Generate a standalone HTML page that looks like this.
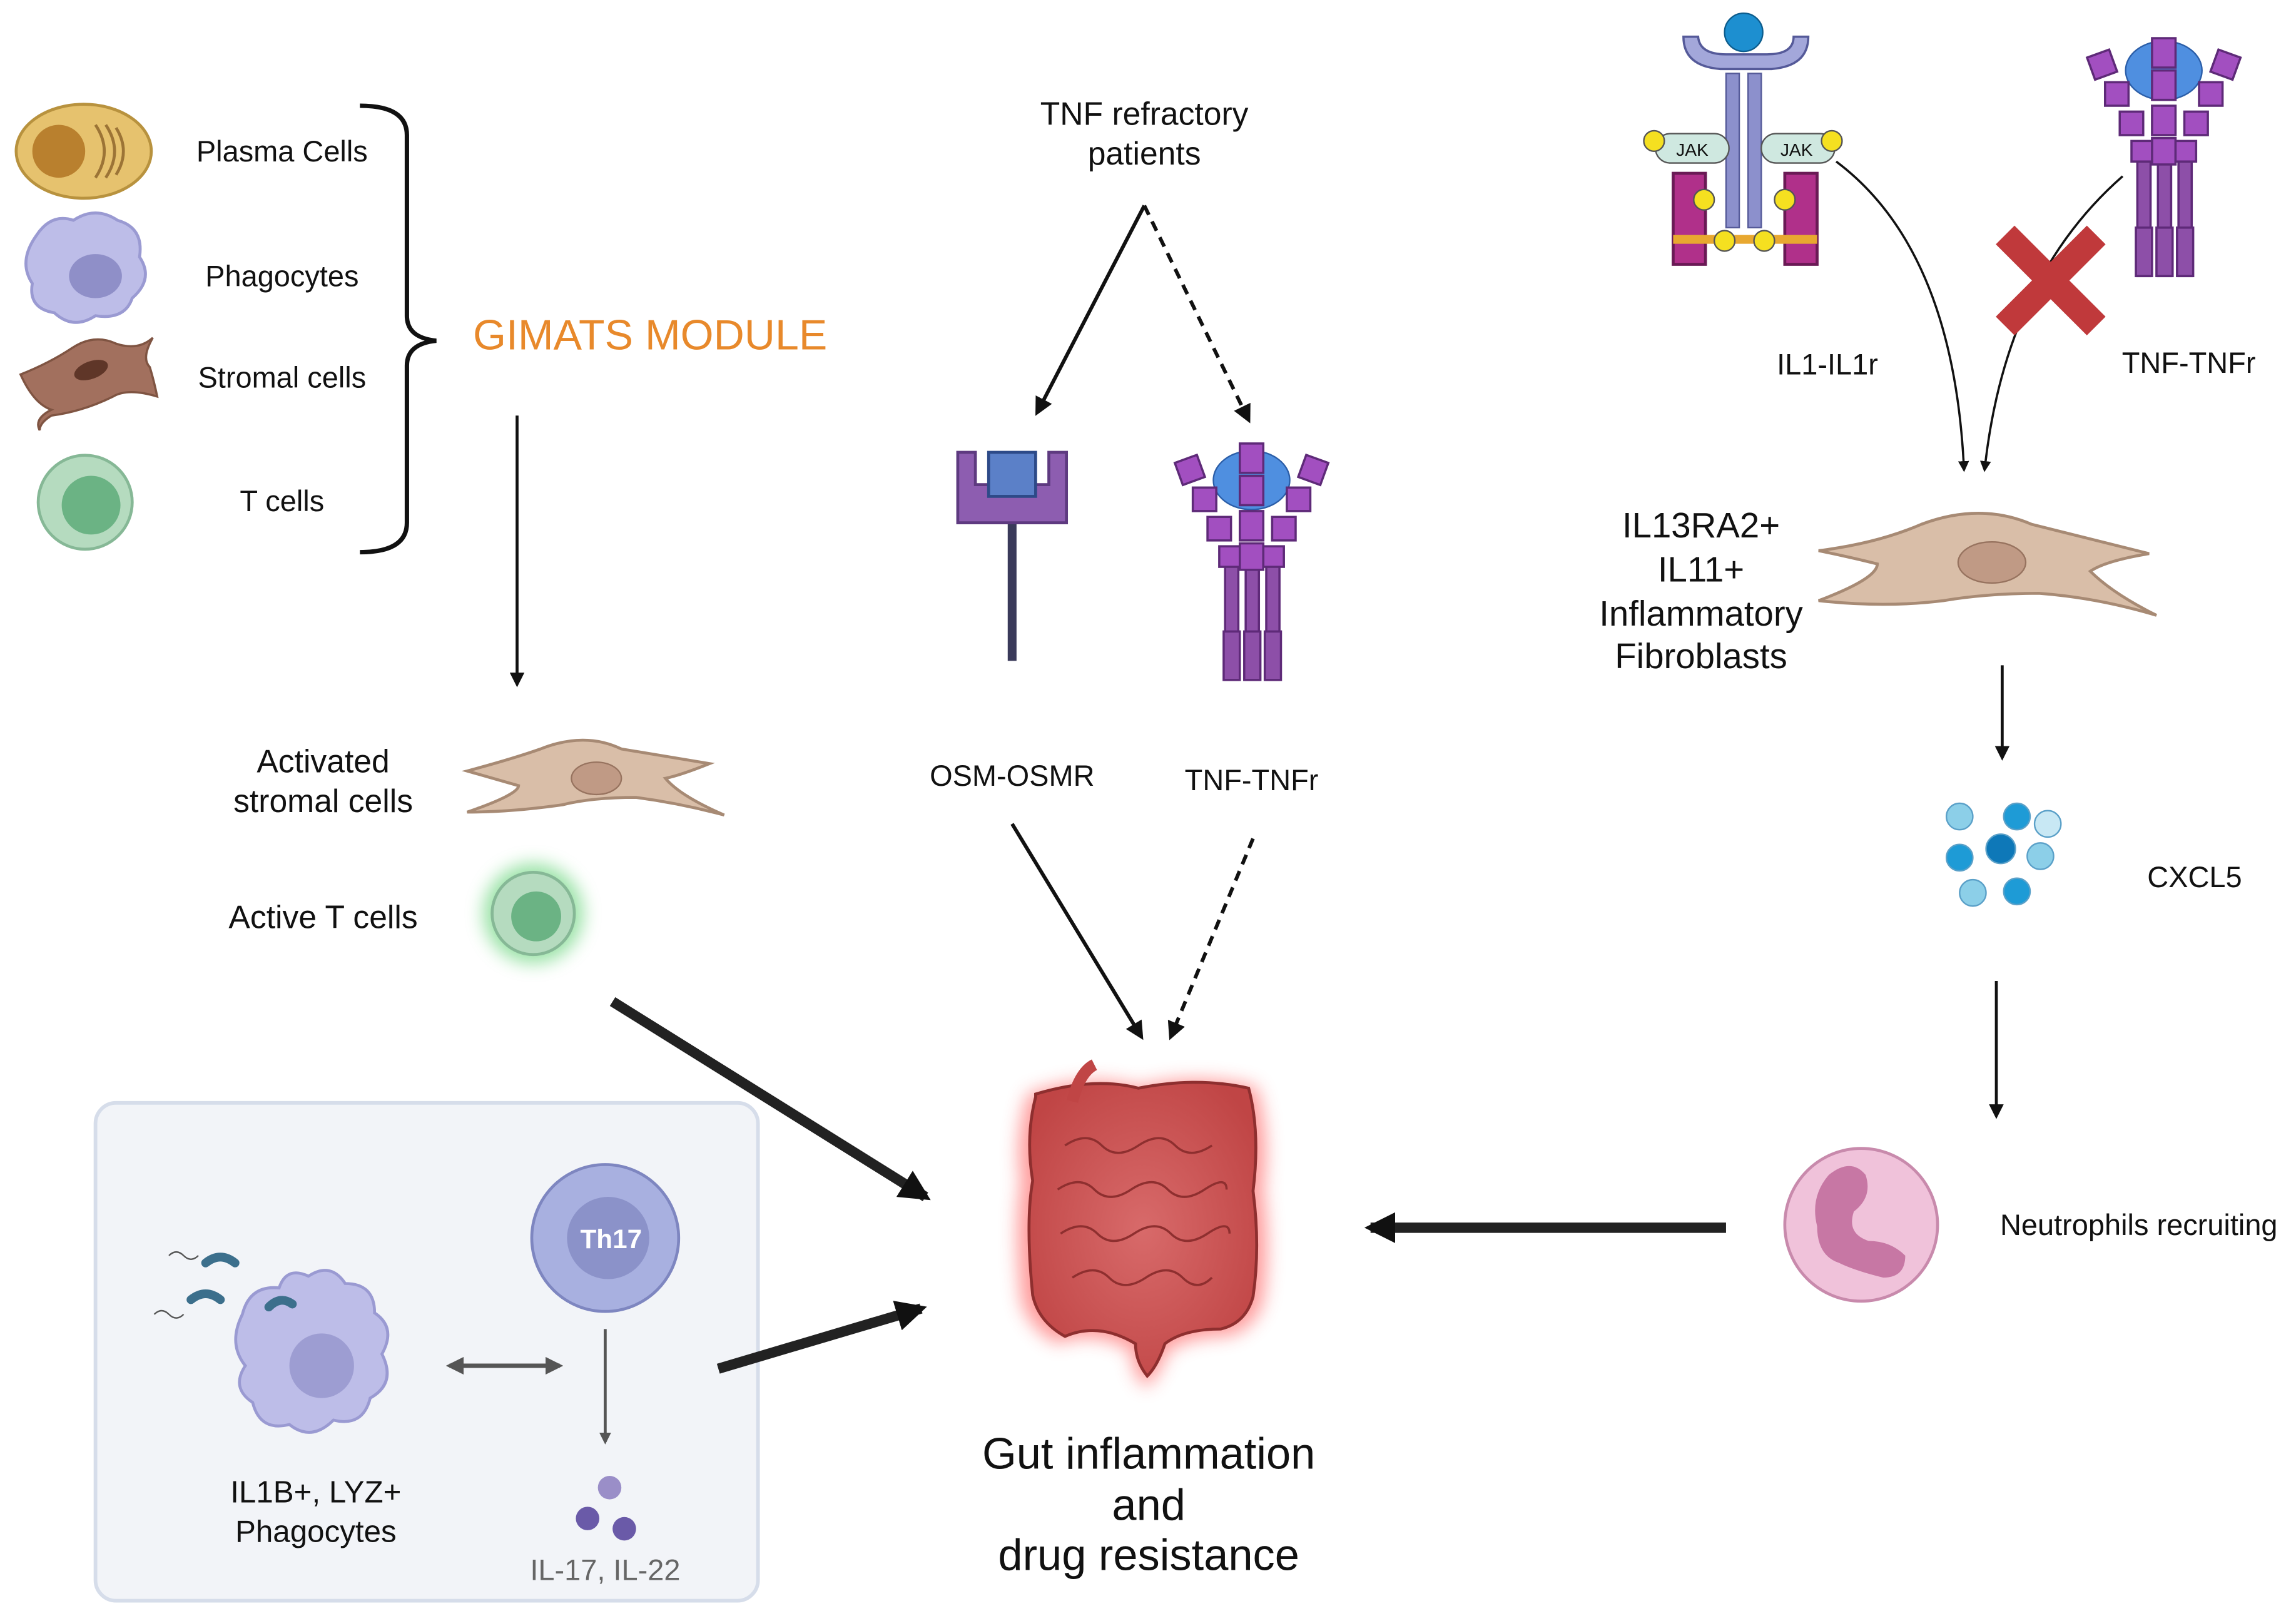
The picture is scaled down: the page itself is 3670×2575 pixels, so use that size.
<!DOCTYPE html>
<html><head><meta charset="utf-8"><style>
html,body{margin:0;padding:0;background:#fff;}
svg{display:block;}
text{font-family:"Liberation Sans",sans-serif;fill:#111;}
</style></head><body>
<svg width="3670" height="2575" viewBox="0 0 1563 1097" preserveAspectRatio="none" xmlns="http://www.w3.org/2000/svg">
<defs>
<marker id="ah" viewBox="0 0 10 10" refX="8" refY="5" markerWidth="5" markerHeight="5" orient="auto-start-reverse"><path d="M0,0L10,5L0,10z" fill="#111"/></marker>
<marker id="ah2" viewBox="0 0 10 10" refX="8" refY="5" markerWidth="3" markerHeight="3" orient="auto-start-reverse"><path d="M0,0L10,5L0,10z" fill="#111"/></marker>
<marker id="ahg" viewBox="0 0 10 10" refX="8" refY="5" markerWidth="4" markerHeight="4" orient="auto-start-reverse"><path d="M0,0L10,5L0,10z" fill="#555"/></marker>
<filter id="glow" x="-1" y="-1" width="3" height="3"><feGaussianBlur stdDeviation="6"/></filter>
<radialGradient id="gut" cx="0.5" cy="0.5" r="0.6"><stop offset="0" stop-color="#d86a6a"/><stop offset="1" stop-color="#c04545"/></radialGradient>
</defs>

<!-- left cells -->
<ellipse cx="57" cy="103" rx="46" ry="32" fill="#e6c26e" stroke="#b8923e" stroke-width="2"/>
<ellipse cx="40" cy="103" rx="18" ry="18" fill="#b9802e"/>
<path d="M65,85 q12,18 0,36 M72,85 q12,18 0,36 M79,87 q10,16 0,32" stroke="#9c7436" fill="none" stroke-width="2"/>
<path d="M25,160 q10,-15 25,-10 q15,-10 30,0 q18,5 15,25 q10,15 -5,28 q-5,15 -25,12 q-15,10 -28,-2 q-18,-3 -15,-20 q-10,-15 3,-33z" fill="#bdbde8" stroke="#9a9ad2" stroke-width="2"/>
<ellipse cx="65" cy="188" rx="18" ry="15" fill="#8f8fc8"/>
<path d="M14,255 q20,-8 35,-18 q15,-10 30,-3 q15,5 25,-4 q-8,14 -2,20 q3,10 5,20 q-20,-6 -30,0 q-20,10 -42,13 q-8,5 -8,10 q-4,-8 8,-14 q-12,-4 -21,-24z" fill="#a2705e" stroke="#7f5442" stroke-width="1.5"/>
<ellipse cx="62" cy="252" rx="12" ry="6" fill="#5f3628" transform="rotate(-20 62 252)"/>
<circle cx="58" cy="342" r="32" fill="#b5dbbf" stroke="#86b896" stroke-width="2"/>
<circle cx="62" cy="344" r="20" fill="#6bb384"/>
<text x="192" y="110" font-size="20" text-anchor="middle">Plasma Cells</text>
<text x="192" y="195" font-size="20" text-anchor="middle">Phagocytes</text>
<text x="192" y="264" font-size="20" text-anchor="middle">Stromal cells</text>
<text x="192" y="348" font-size="20" text-anchor="middle">T cells</text>
<path d="M245,72 q32,0 32,20 L277,215 q0,15 20,17 q-20,2 -20,17 L277,356 q0,20 -32,20" fill="none" stroke="#111" stroke-width="3"/>
<text x="322" y="238" font-size="29" fill="#e8892b" style="fill:#e8892b">GIMATS MODULE</text>
<line x1="352" y1="283" x2="352" y2="466" stroke="#111" stroke-width="2" marker-end="url(#ah)"/>

<text x="220" y="526" font-size="22" text-anchor="middle">Activated</text>
<text x="220" y="553" font-size="22" text-anchor="middle">stromal cells</text>
<path d="M318,525 q30,-8 50,-15 q30,-12 55,0 q30,5 60,10 q-20,8 -30,10 q10,12 40,25 q-30,-8 -60,-12 q-30,0 -50,5 q-35,5 -65,5 q35,-12 35,-18z" fill="#d9bea8" stroke="#a78a74" stroke-width="2"/>
<ellipse cx="406" cy="530" rx="17" ry="11" fill="#c09a85" stroke="#97735f"/>
<text x="220" y="632" font-size="22" text-anchor="middle">Active T cells</text>
<circle cx="363" cy="622" r="34" fill="#6dd67f" filter="url(#glow)" opacity="0.7"/>
<circle cx="363" cy="622" r="28" fill="#b5dbbf" stroke="#86b896" stroke-width="2"/>
<circle cx="365" cy="624" r="17" fill="#6bb384"/>
<line x1="417" y1="682" x2="630" y2="815" stroke="#222" stroke-width="7" marker-end="url(#ah2)"/>

<!-- box -->
<rect x="65" y="751" width="451" height="339" rx="14" fill="#f2f4f8" stroke="#d6ddea" stroke-width="2.5"/>
<path d="M165,895 q5,-20 25,-18 q5,-15 20,-8 q15,-10 25,5 q20,0 20,20 q15,10 5,28 q10,20 -8,30 q-5,20 -25,15 q-15,15 -30,3 q-20,5 -25,-15 q-15,-10 -5,-25 q-12,-15 -2,-35z" fill="#bdbde8" stroke="#9a9ad2" stroke-width="2"/>
<circle cx="219" cy="930" r="22" fill="#9d9dd2"/>
<path d="M140,860 q10,-8 20,0" stroke="#3c6f8c" stroke-width="6" fill="none" stroke-linecap="round"/>
<path d="M130,885 q10,-8 20,0" stroke="#3c6f8c" stroke-width="6" fill="none" stroke-linecap="round"/>
<path d="M183,890 q8,-8 16,-2" stroke="#3c6f8c" stroke-width="6" fill="none" stroke-linecap="round"/>
<path d="M115,855 q5,-5 10,0 t10,0 M105,895 q5,-5 10,0 t10,0" stroke="#555" fill="none"/>
<text x="215" y="1023" font-size="21" text-anchor="middle">IL1B+, LYZ+</text>
<text x="215" y="1050" font-size="21" text-anchor="middle">Phagocytes</text>
<line x1="306" y1="930" x2="381" y2="930" stroke="#555" stroke-width="3" marker-start="url(#ahg)" marker-end="url(#ahg)"/>
<circle cx="412" cy="843" r="50" fill="#a8b0e0" stroke="#7e86c0" stroke-width="2"/>
<circle cx="414" cy="843" r="28" fill="#8b92c9"/>
<text x="416" y="850" font-size="18" font-weight="bold" text-anchor="middle" style="fill:#fff">Th17</text>
<line x1="412" y1="905" x2="412" y2="982" stroke="#555" stroke-width="2" marker-end="url(#ahg)"/>
<circle cx="415" cy="1013" r="8" fill="#9a8ec8"/>
<circle cx="400" cy="1034" r="8" fill="#6a5aa8"/>
<circle cx="425" cy="1041" r="8" fill="#6a5aa8"/>
<text x="412" y="1076" font-size="20" text-anchor="middle" style="fill:#666">IL-17, IL-22</text>
<line x1="489" y1="932" x2="627" y2="891" stroke="#222" stroke-width="7" marker-end="url(#ah2)"/>

<!-- center -->
<text x="779" y="85" font-size="22" text-anchor="middle">TNF refractory</text>
<text x="779" y="112" font-size="22" text-anchor="middle">patients</text>
<line x1="779" y1="140" x2="706" y2="281" stroke="#111" stroke-width="2.5" marker-end="url(#ah)"/>
<line x1="779" y1="140" x2="850" y2="286" stroke="#111" stroke-width="2.5" stroke-dasharray="7,5" marker-end="url(#ah)"/>
<rect x="686" y="350" width="6" height="100" fill="#3a3a5a"/>
<path d="M652,308 h12 v22 h50 v-22 h12 v48 h-74z" fill="#8d5db0" stroke="#5e3a80" stroke-width="2"/>
<rect x="673" y="308" width="32" height="30" fill="#5b80c8" stroke="#2d4a88" stroke-width="2"/>
<g fill="#8d4fa8" stroke="#5e2a78" stroke-width="1.5">
<rect x="834" y="385" width="9" height="78"/><rect x="848" y="385" width="9" height="78"/><rect x="862" y="385" width="9" height="78"/>
<rect x="833" y="430" width="11" height="33"/><rect x="847" y="430" width="11" height="33"/><rect x="861" y="430" width="11" height="33"/>
</g>
<ellipse cx="852" cy="327" rx="26" ry="20" fill="#4f8fe0" stroke="#2b5ea8"/>
<g fill="#a24fc0" stroke="#5e2a78" stroke-width="1.5">
<rect x="844" y="302" width="16" height="20"/><rect x="844" y="324" width="16" height="20"/><rect x="844" y="348" width="16" height="20"/><rect x="844" y="370" width="16" height="18"/>
<rect x="802" y="312" width="16" height="16" transform="rotate(-20 810 320)"/><rect x="886" y="312" width="16" height="16" transform="rotate(20 894 320)"/>
<rect x="812" y="332" width="16" height="16"/><rect x="876" y="332" width="16" height="16"/>
<rect x="822" y="352" width="16" height="16"/><rect x="866" y="352" width="16" height="16"/>
<rect x="830" y="372" width="14" height="14"/><rect x="860" y="372" width="14" height="14"/>
</g>
<text x="689" y="535" font-size="20" text-anchor="middle">OSM-OSMR</text>
<text x="852" y="538" font-size="20" text-anchor="middle">TNF-TNFr</text>
<line x1="689" y1="561" x2="777" y2="706" stroke="#111" stroke-width="2.5" marker-end="url(#ah)"/>
<line x1="853" y1="571" x2="797" y2="706" stroke="#111" stroke-width="2.5" stroke-dasharray="7,5" marker-end="url(#ah)"/>

<!-- gut -->
<g>
<path d="M700,745 q40,-15 75,-5 q40,-10 80,0 q10,30 5,70 q5,40 0,75 q-5,20 -25,25 q-25,0 -40,10 q-5,15 -15,25 q-10,-10 -10,-25 q-25,-15 -50,-5 q-20,-10 -25,-30 q-5,-50 0,-80 q-5,-30 5,-60z" fill="#ff5c5c" filter="url(#glow)" opacity="0.6"/>
<path d="M705,745 q40,-12 70,-4 q40,-8 75,0 q8,30 3,70 q5,38 0,72 q-5,18 -22,22 q-25,0 -38,10 q-5,15 -12,22 q-8,-10 -8,-22 q-25,-15 -48,-5 q-18,-10 -22,-28 q-5,-50 0,-78 q-5,-30 2,-57z" fill="url(#gut)" stroke="#8e2f2f" stroke-width="2"/>
<path d="M730,750 q5,-20 15,-25" stroke="#c04545" stroke-width="8" fill="none"/>
<path d="M725,780 q15,-10 25,0 t25,0 t25,0 t25,0 M720,810 q15,-10 25,0 t25,0 t25,0 t25,0 t15,0 M722,840 q15,-10 25,0 t25,0 t25,0 t25,0 t15,0 M730,870 q15,-10 25,0 t25,0 t25,0 t20,0" stroke="#8e2f2f" fill="none" stroke-width="1.5"/>
</g>
<text x="782" y="1000" font-size="30" text-anchor="middle">Gut inflammation</text>
<text x="782" y="1035" font-size="30" text-anchor="middle">and</text>
<text x="782" y="1069" font-size="30" text-anchor="middle">drug resistance</text>

<!-- right top receptors -->
<g>
<rect x="1139" y="118" width="22" height="62" fill="#b0308a" stroke="#6a1a55" stroke-width="2"/>
<rect x="1215" y="118" width="22" height="62" fill="#b0308a" stroke="#6a1a55" stroke-width="2"/>
<rect x="1161" y="128" width="54" height="8" fill="#fff" opacity="0"/>
<rect x="1139" y="160" width="98" height="6" fill="#e8a830"/>
<rect x="1175" y="50" width="9" height="105" fill="#8c90cc" stroke="#555a99"/>
<rect x="1190" y="50" width="9" height="105" fill="#8c90cc" stroke="#555a99"/>
<path d="M1146,25 q0,20 25,22 l35,0 q25,-2 25,-22 l-10,0 q0,12 -18,12 l-28,0 q-18,0 -19,-12z" fill="#a3a7da" stroke="#555a99" stroke-width="1.5"/>
<circle cx="1187" cy="22" r="13" fill="#1d8fd0" stroke="#0d5c8c"/>
<rect x="1127" y="91" width="50" height="20" rx="10" fill="#cfe8e0" stroke="#555"/>
<rect x="1199" y="91" width="50" height="20" rx="10" fill="#cfe8e0" stroke="#555"/>
<text x="1152" y="106" font-size="12" text-anchor="middle">JAK</text>
<text x="1223" y="106" font-size="12" text-anchor="middle">JAK</text>
<g fill="#f5e020" stroke="#555"><circle cx="1126" cy="96" r="7"/><circle cx="1247" cy="96" r="7"/><circle cx="1160" cy="136" r="7"/><circle cx="1215" cy="136" r="7"/><circle cx="1174" cy="164" r="7"/><circle cx="1201" cy="164" r="7"/></g>
</g>
<g fill="#8d4fa8" stroke="#5e2a78" stroke-width="1.5">
<rect x="1455" y="110" width="9" height="78"/><rect x="1469" y="110" width="9" height="78"/><rect x="1483" y="110" width="9" height="78"/>
<rect x="1454" y="155" width="11" height="33"/><rect x="1468" y="155" width="11" height="33"/><rect x="1482" y="155" width="11" height="33"/>
</g>
<ellipse cx="1473" cy="48" rx="26" ry="20" fill="#4f8fe0" stroke="#2b5ea8"/>
<g fill="#a24fc0" stroke="#5e2a78" stroke-width="1.5">
<rect x="1465" y="26" width="16" height="20"/><rect x="1465" y="48" width="16" height="20"/><rect x="1465" y="72" width="16" height="20"/><rect x="1465" y="94" width="16" height="18"/>
<rect x="1423" y="36" width="16" height="16" transform="rotate(-20 1431 44)"/><rect x="1507" y="36" width="16" height="16" transform="rotate(20 1515 44)"/>
<rect x="1433" y="56" width="16" height="16"/><rect x="1497" y="56" width="16" height="16"/>
<rect x="1443" y="76" width="16" height="16"/><rect x="1487" y="76" width="16" height="16"/>
<rect x="1451" y="96" width="14" height="14"/><rect x="1481" y="96" width="14" height="14"/>
</g>
<text x="1244" y="255" font-size="20" text-anchor="middle">IL1-IL1r</text>
<text x="1490" y="254" font-size="20" text-anchor="middle">TNF-TNFr</text>
<path d="M1250,110 q80,60 87,210" stroke="#111" stroke-width="1.5" fill="none" marker-end="url(#ah)"/>
<path d="M1445,120 q-80,70 -94,200" stroke="#111" stroke-width="1.5" fill="none" marker-end="url(#ah)"/>
<path d="M1365,160 L1427,222 M1427,160 L1365,222" stroke="#c0393b" stroke-width="18"/>

<text x="1158" y="366" font-size="24" text-anchor="middle">IL13RA2+</text>
<text x="1158" y="396" font-size="24" text-anchor="middle">IL11+</text>
<text x="1158" y="426" font-size="24" text-anchor="middle">Inflammatory</text>
<text x="1158" y="455" font-size="24" text-anchor="middle">Fibroblasts</text>
<path d="M1238,375 q40,-5 70,-18 q40,-15 75,0 q40,10 80,20 q-30,5 -40,12 q15,15 45,30 q-40,-12 -80,-15 q-35,0 -65,5 q-40,5 -85,0 q40,-15 40,-25 q-20,-5 -40,-9z" fill="#d9bea8" stroke="#a78a74" stroke-width="2"/>
<ellipse cx="1356" cy="383" rx="23" ry="14" fill="#c09a85" stroke="#97735f"/>
<line x1="1363" y1="453" x2="1363" y2="516" stroke="#111" stroke-width="2" marker-end="url(#ah)"/>
<g stroke="#5aa0c8" stroke-width="1">
<circle cx="1334" cy="556" r="9" fill="#8ccfe8"/><circle cx="1373" cy="556" r="9" fill="#1e9bd6"/><circle cx="1394" cy="561" r="9" fill="#c8e8f4"/>
<circle cx="1334" cy="584" r="9" fill="#1e9bd6"/><circle cx="1362" cy="578" r="10" fill="#0e78b8"/><circle cx="1389" cy="583" r="9" fill="#8ccfe8"/>
<circle cx="1343" cy="608" r="9" fill="#8ccfe8"/><circle cx="1373" cy="607" r="9" fill="#1e9bd6"/>
</g>
<text x="1494" y="604" font-size="20" text-anchor="middle">CXCL5</text>
<line x1="1359" y1="668" x2="1359" y2="760" stroke="#111" stroke-width="2" marker-end="url(#ah)"/>
<circle cx="1267" cy="834" r="52" fill="#f0c2da" stroke="#c88aac" stroke-width="2"/>
<path d="M1245,800 q15,-12 25,0 q5,15 -8,25 q-5,15 10,20 q15,0 25,10 q0,15 -15,15 q-20,-5 -30,-10 q-15,-5 -15,-25 q-5,-20 8,-35z" fill="#c06a9a" opacity="0.85"/>
<text x="1456" y="841" font-size="20" text-anchor="middle">Neutrophils recruiting</text>
<line x1="1175" y1="836" x2="933" y2="836" stroke="#222" stroke-width="7" marker-end="url(#ah2)"/>
</svg>
</body></html>
